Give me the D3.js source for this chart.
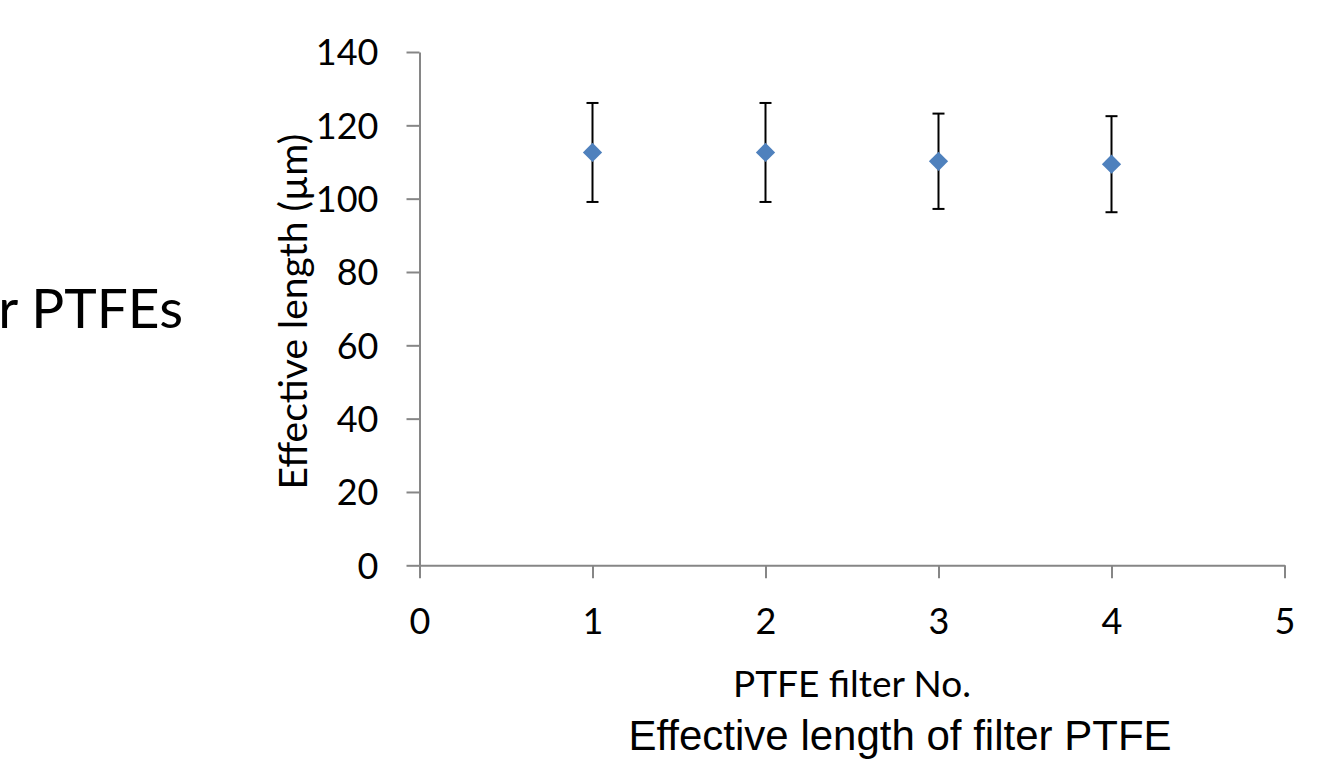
<!DOCTYPE html>
<html>
<head>
<meta charset="utf-8">
<script src="https://cdn.jsdelivr.net/npm/d3@7"></script>
<style>
    body { margin: 0; background: #fff; }
    svg { display: block; }
    .calibri { font-family: Lato, "Open Sans", sans-serif; fill: #000; }
    .arial { font-family: "Liberation Sans", Arial, sans-serif; fill: #000; }
    .axis path, .axis line { stroke: #868686; stroke-width: 2; }
</style>
</head>
<body>
<svg id="mainSVG" width="1328" height="767"></svg>
<script>
/* ------------------------------ DATA ------------------------------ */

let filterNo = [1, 2, 3, 4]
let effLength = [112.6, 112.6, 110.2, 109.4]   // µm
let errLength = [13.5, 13.5, 13.0, 13.1]
let xTicks = [0, 1, 2, 3, 4, 5]
let yTicks = [0, 20, 40, 60, 80, 100, 120, 140]

/* ----------------------------- SCALES ----------------------------- */

let svg = d3.select("#mainSVG")

let x = d3.scaleLinear().domain([0, 5]).range([419.5, 1284.5])
let y = d3.scaleLinear().domain([0, 140]).range([565.3, 52])

/* ------------------------------ AXES ------------------------------ */

let xAxis = svg.append('g')
    .attr('class', 'axis')
    .attr('transform', 'translate(0,' + y(0) + ')')
    .call(d3.axisBottom(x).tickValues(xTicks).tickFormat(d3.format('d')).tickSize(13).tickSizeOuter(0))

xAxis.selectAll('text')
    .attr('class', 'calibri')
    .style('font-size', '36px')
    .attr('dy', '0.71em')
    .attr('y', 43)

let yAxis = svg.append('g')
    .attr('class', 'axis')
    .attr('transform', 'translate(' + x(0) + ',0)')
    .call(d3.axisLeft(y).tickValues(yTicks).tickSize(13).tickSizeOuter(0).tickPadding(28))

yAxis.selectAll('text')
    .attr('class', 'calibri')
    .style('font-size', '36px')
    .attr('dy', '0.36em')

svg.selectAll('.axis').attr('font-family', null).attr('font-size', null)

/* --------------------------- ERROR BARS --------------------------- */

let points = filterNo.map(function (d, i) { return { no: d, v: effLength[i], e: errLength[i] } })

let bars = svg.append('g')
    .attr('stroke', '#000')
    .attr('stroke-width', 2)
    .selectAll('g')
    .data(points)
    .enter()
        .append('g')

bars.append('line')
    .attr('x1', function (d) { return x(d.no) }).attr('x2', function (d) { return x(d.no) })
    .attr('y1', function (d) { return y(d.v - d.e) }).attr('y2', function (d) { return y(d.v + d.e) })

bars.append('line')
    .attr('x1', function (d) { return x(d.no) - 6 }).attr('x2', function (d) { return x(d.no) + 6 })
    .attr('y1', function (d) { return y(d.v + d.e) }).attr('y2', function (d) { return y(d.v + d.e) })

bars.append('line')
    .attr('x1', function (d) { return x(d.no) - 6 }).attr('x2', function (d) { return x(d.no) + 6 })
    .attr('y1', function (d) { return y(d.v - d.e) }).attr('y2', function (d) { return y(d.v - d.e) })

/* ---------------------------- MARKERS ---------------------------- */

svg.append('g')
    .selectAll('path')
    .data(points)
    .enter()
        .append('path')
        .attr('d', d3.symbol(d3.symbolSquare, 185))
        .attr('fill', '#4F81BD')
        .attr('transform', function (d) { return 'translate(' + x(d.no) + ',' + y(d.v) + ') rotate(45)' })

/* ----------------------------- TITLES ----------------------------- */

svg.append('text')
    .attr('class', 'calibri')
    .attr('transform', 'translate(307,' + ((y(0) + y(140)) / 2 + 3) + ') rotate(-90)')
    .attr('text-anchor', 'middle')
    .style('font-size', '39px')
    .text('Effective length (µm)')

svg.append('text')
    .attr('class', 'calibri')
    .attr('x', 852).attr('y', 697)
    .attr('text-anchor', 'middle')
    .style('font-size', '37px')
    .text('PTFE filter No.')

svg.append('text')
    .attr('class', 'arial')
    .attr('x', 900).attr('y', 750)
    .attr('text-anchor', 'middle')
    .style('font-size', '42px')
    .text('Effective length of filter PTFE')

// v-- resto di un titolo tagliato a sinistra
svg.append('text')
    .attr('class', 'calibri')
    .attr('x', 183).attr('y', 328)
    .attr('text-anchor', 'end')
    .style('font-size', '55px')
    .text('r PTFEs')
</script>
</body>
</html>
